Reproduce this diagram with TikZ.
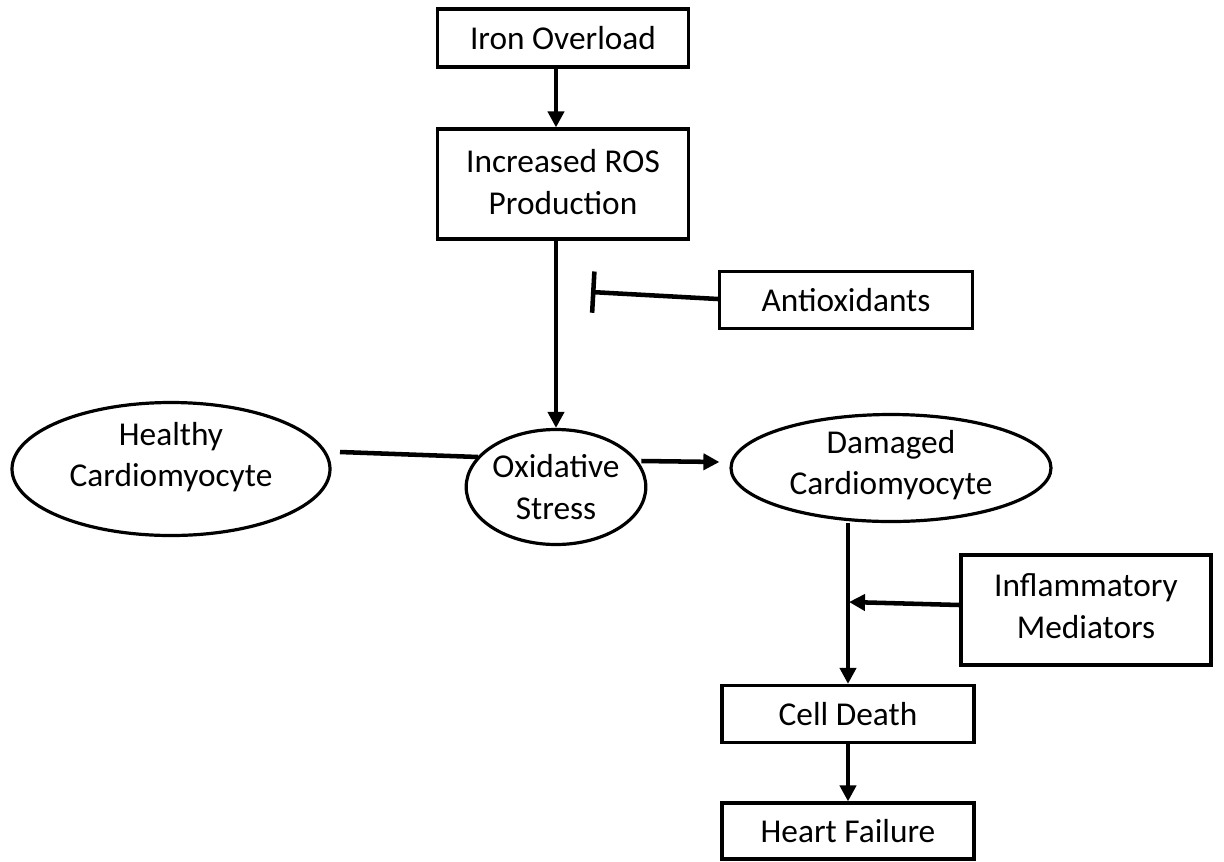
\documentclass[tikz,border=0pt]{standalone}
\usepackage{fontspec}
\setmainfont{Carlito}
\usetikzlibrary{shapes.geometric,arrows.meta}
\begin{document}
\begin{tikzpicture}[x=0.75pt,y=-0.75pt,
  every node/.style={font=\fontsize{25}{31}\selectfont, align=center},
  boxnode/.style={draw, line width=2.4pt, rectangle, inner sep=0pt},
  ellnode/.style={draw, line width=2.4pt, ellipse, inner sep=0pt},
  conn/.style={line width=3.4pt},
  arr/.style={conn, -{Triangle[length=12pt,width=12pt]}},
  inh/.style={conn, -{Bar[width=31pt,line width=3.4pt]}}]
\useasboundingbox (0,0) rectangle (1224,861);
\node[boxnode, minimum width=251*0.75pt, minimum height=58*0.75pt] (I) at (563,38) {Iron Overload};
\node[boxnode, minimum width=251*0.75pt, minimum height=110*0.75pt] (R) at (563,184) {\raisebox{3pt}{Increased ROS}\\\raisebox{3pt}{Production}};
\node[boxnode, minimum width=253*0.75pt, minimum height=57*0.75pt] (A) at (846,300) {Antioxidants};
\node[ellnode, minimum width=318*0.75pt, minimum height=133*0.75pt,
  label={[yshift=12*0.75pt]center:{Healthy\\Cardiomyocyte}}] (H) at (171,469) {};
\node[ellnode, minimum width=171*0.75pt, minimum height=115*0.75pt] (O) at (556,487) {Oxidative\\Stress};
\node[ellnode, minimum width=320*0.75pt, minimum height=107*0.75pt,
  label={[yshift=3*0.75pt]center:{Damaged\\Cardiomyocyte}}] (D) at (891,468) {};
\node[boxnode, minimum width=250*0.75pt, minimum height=110*0.75pt,
  label={[yshift=4*0.75pt]center:{Inflammatory\\Mediators}}] (M) at (1086,610) {};
\node[boxnode, minimum width=252*0.75pt, minimum height=57*0.75pt] (C) at (848,714) {Cell Death};
\node[boxnode, minimum width=252*0.75pt, minimum height=56*0.75pt] (F) at (848,831) {Heart Failure};
\coordinate (bar) at (591,292);
\coordinate (hs) at (340,452);
\coordinate (he) at (478,457);
\coordinate (mj) at (849,602);
\draw[arr] (I.south -| O.north) -- (R.north -| O.north);
\draw[arr] (R.south -| O.north) -- (O.north);
\draw[inh] ([yshift=1*0.75pt]A.west) -- (bar);
\draw[conn] (hs) -- (he);
\draw[arr] ([xshift=-6*0.75pt, yshift=26*0.75pt]O.east) -- ([xshift=-10*0.75pt, yshift=6*0.75pt]D.west);
\draw[arr] (C.north |- D.south) -- (C.north);
\draw[arr] ([yshift=5*0.75pt]M.west) -- (mj);
\draw[arr] (C.south) -- (F.north);
\end{tikzpicture}
\end{document}
